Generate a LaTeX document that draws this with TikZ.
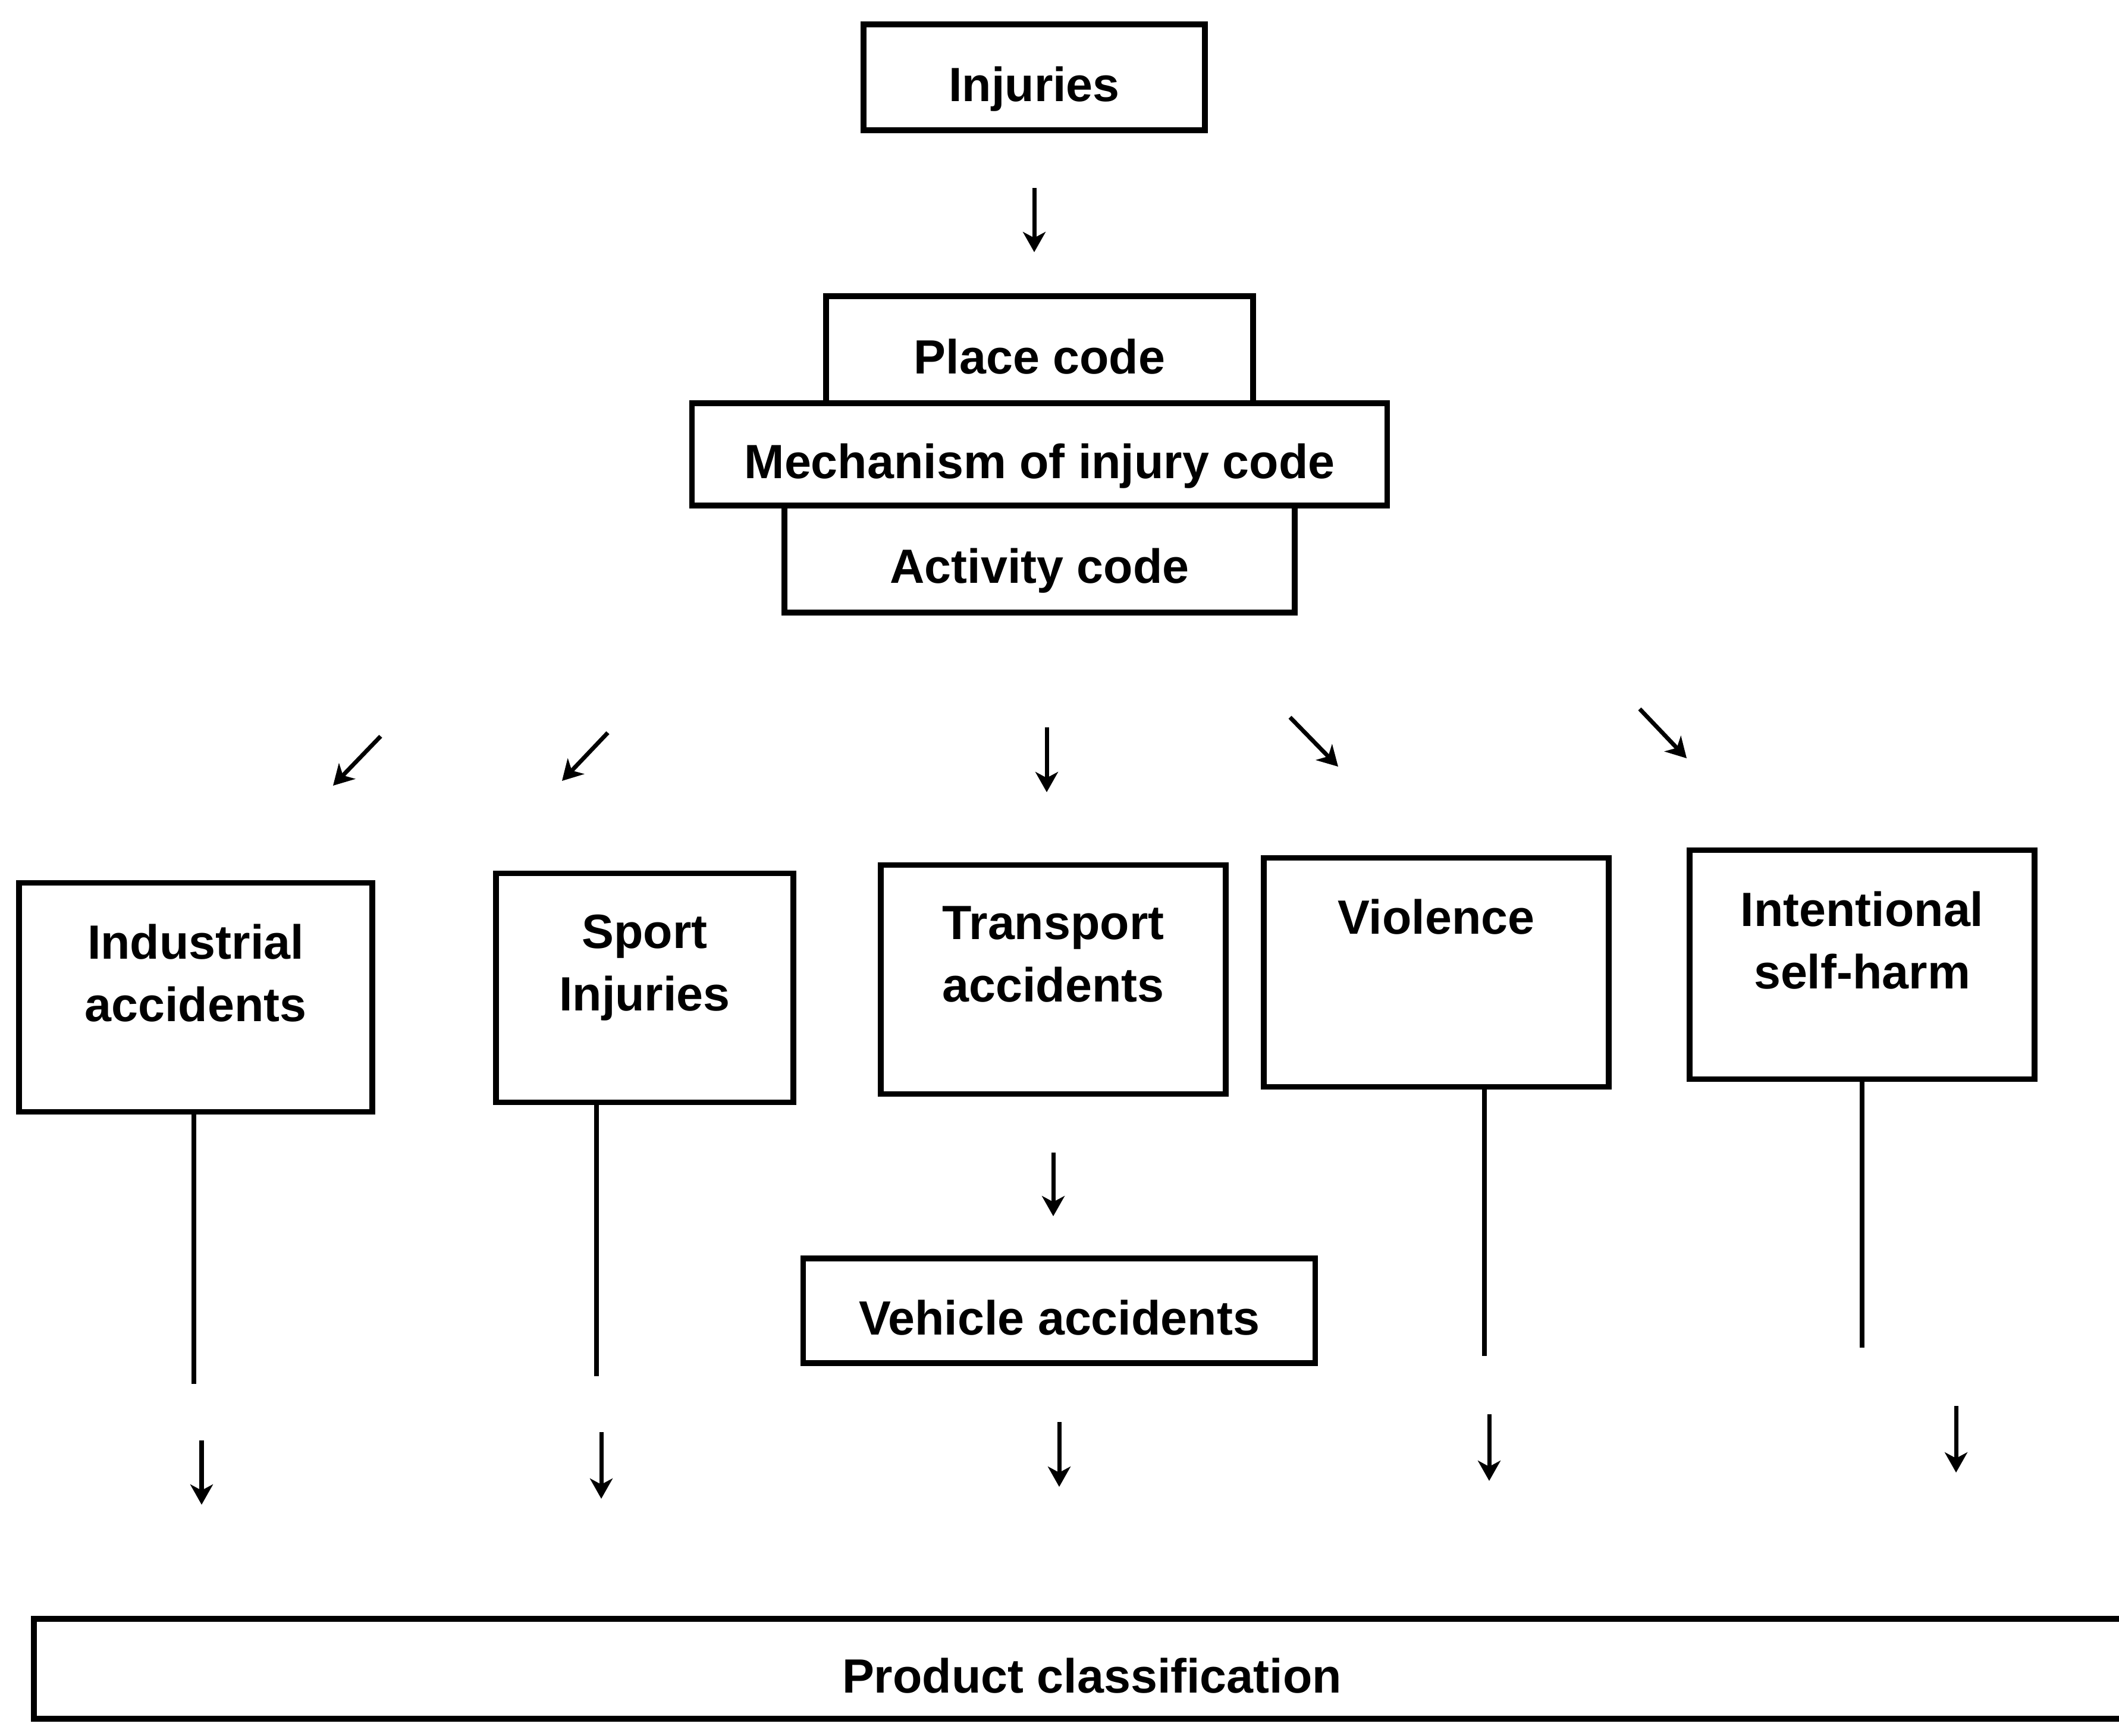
\documentclass[tikz,border=0pt]{standalone}
\usepackage{fontspec}
\setmainfont{Liberation Sans}
\usepackage{tikz}
\usetikzlibrary{arrows.meta, positioning}

\newcommand{\boxfont}{\bfseries\fontsize{23}{30}\selectfont}

\begin{document}
\begin{tikzpicture}[
  every node/.style={font=\boxfont},
  codebox/.style={draw, rectangle, line width=2.6pt, minimum height=1.8cm, outer sep=0pt, text height=24.4pt, text depth=1.2pt},
  catbox/.style={draw, rectangle, line width=2.6pt, minimum width=5.8cm, minimum height=3.85cm},
  cattext/.style={anchor=north, align=center, inner sep=0pt, yshift=-0.73cm},
  stem/.style={line width=2.2pt},
  arrow/.style={-{Stealth[length=0.34cm, width=0.38cm, inset=0.1cm]}, line width=2pt}
]
\useasboundingbox (0,0) rectangle (35.63,-29.18);

% Top box
\node[codebox, minimum width=5.74cm, minimum height=1.78cm] (injuries) at (17.39,-1.30) {Injuries};

% Stacked codes
\node[codebox, minimum width=7.18cm] (place) at (17.48,-5.88) {Place code};
\node[codebox, minimum width=11.69cm, minimum height=1.72cm, below=0pt of place] (mechanism) {Mechanism of injury code};
\node[codebox, minimum width=8.58cm, below=0pt of mechanism] (activity) {Activity code};

% Categories
\node[catbox, minimum width=5.94cm, label={[cattext]north:{Industrial\\accidents}}] (industrial) at (3.29,-16.77) {};
\node[catbox, minimum width=5cm, label={[cattext]north:{Sport\\Injuries}}] (sport) at (10.84,-16.61) {};
\node[catbox, label={[cattext]north:{Transport\\accidents}}] (transport) at (17.71,-16.47) {};
\node[catbox, label={[cattext]north:Violence}] (violence) at (24.15,-16.35) {};
\node[catbox, label={[cattext]north:{Intentional\\self-harm}}] (intentional) at (31.31,-16.22) {};

% Sub-category and bottom box
\node[codebox, minimum width=8.61cm, minimum height=1.76cm] (vehicle) at (17.81,-22.04) {Vehicle accidents};
\node[codebox, minimum width=35.58cm, minimum height=1.68cm] (product) at (18.36,-28.06) {Product classification};

% Loose arrow ends
\coordinate (fan1) at (6.40,-12.38);   \coordinate (fan1tip) at (5.60,-13.21);
\coordinate (fan2) at (10.22,-12.32);  \coordinate (fan2tip) at (9.45,-13.13);
\coordinate (fan3) at (17.60,-12.23);  \coordinate (fan3tip) at (17.60,-13.32);
\coordinate (fan4) at (21.69,-12.06);  \coordinate (fan4tip) at (22.50,-12.89);
\coordinate (fan5) at (27.57,-11.92);  \coordinate (fan5tip) at (28.36,-12.75);

\coordinate (stem1) at (3.26,-23.27);
\coordinate (stem2) at (10.03,-23.14);
\coordinate (stem3) at (24.96,-22.80);
\coordinate (stem4) at (31.31,-22.66);

\coordinate (drop1) at (3.39,-24.22);   \coordinate (drop1tip) at (3.39,-25.30);
\coordinate (drop2) at (10.11,-24.08);  \coordinate (drop2tip) at (10.11,-25.20);
\coordinate (drop3) at (25.04,-23.78);  \coordinate (drop3tip) at (25.04,-24.90);
\coordinate (drop4) at (32.89,-23.64);  \coordinate (drop4tip) at (32.89,-24.76);

% Arrows (top)
\draw[arrow, shorten <=0.97cm, shorten >=0.74cm] (injuries) -- (injuries |- place.north);
\draw[arrow] (fan1) -- (fan1tip);
\draw[arrow] (fan2) -- (fan2tip);
\draw[arrow] (fan3) -- (fan3tip);
\draw[arrow] (fan4) -- (fan4tip);
\draw[arrow] (fan5) -- (fan5tip);

% Transport branch
\draw[arrow, shorten <=0.94cm, shorten >=0.71cm] (transport) -- (transport |- vehicle.north);
\draw[arrow, shorten <=0.99cm, shorten >=2.22cm] (vehicle) -- (vehicle |- product.north);

% Stems and drops
\draw[stem] (industrial.south -| stem1) -- (stem1);
\draw[stem] (sport.south -| stem2) -- (stem2);
\draw[stem] (violence.south -| stem3) -- (stem3);
\draw[stem] (intentional.south -| stem4) -- (stem4);
\draw[arrow] (drop1) -- (drop1tip);
\draw[arrow] (drop2) -- (drop2tip);
\draw[arrow] (drop3) -- (drop3tip);
\draw[arrow] (drop4) -- (drop4tip);

\end{tikzpicture}
\end{document}
